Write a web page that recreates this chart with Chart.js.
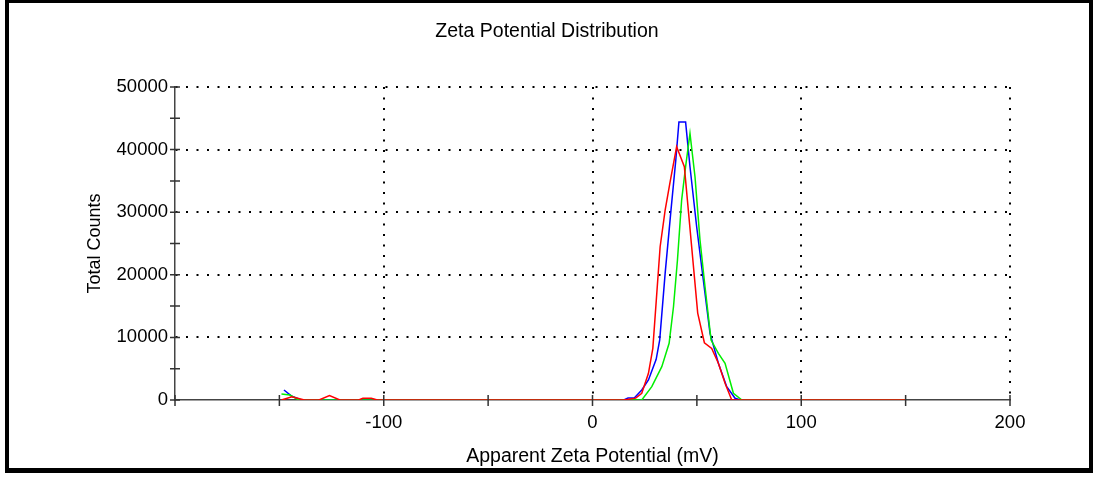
<!DOCTYPE html>
<html>
<head>
<meta charset="utf-8">
<title>Zeta Potential Distribution</title>
<script src="https://cdn.jsdelivr.net/npm/chart.js@4/dist/chart.umd.min.js"></script>
<style>
  html, body { margin: 0; padding: 0; background: #fff; }
  #wrap { width: 1094px; height: 477px; }
</style>
</head>
<body>
<div id="wrap"><canvas id="zetaChart" width="1094" height="477"></canvas></div>
<script>
// values (x in mV, y in counts)
const redX = [-149, -144, -138, -131, -126, -121, -112, -110, -106, -103, 15, 20.7, 23.6, 26.8, 28.9, 32.4, 34.8, 37.2, 40.3, 44, 50.4, 53.6, 57.1, 60.3, 63.5, 66.7, 150];
const redY = [0, 500, 0, 0, 700, 0, 0, 270, 270, 0, 0, 300, 1070, 4260, 8250, 24480, 30340, 34870, 40450, 37260, 13890, 9150, 8250, 5860, 2660, 0, 0];

const greenX = [-149, -145, -140.7, 23.6, 28.4, 33.2, 36.7, 38.8, 40.7, 42.7, 44.6, 46.7, 49.1, 51.5, 53.9, 56.8, 60.3, 63.5, 67.5, 71.6, 150];
const greenY = [960, 800, 0, 0, 2130, 5320, 9050, 14900, 22360, 31940, 37260, 42590, 35660, 25550, 18090, 9580, 7450, 5860, 1070, 0, 0];

const blueX = [-147.8, -144, -140, -136, 15, 17, 20, 23.6, 26.8, 30.5, 32.2, 34.8, 37.6, 39.9, 41.4, 44.6, 46.7, 49.9, 53.1, 56.3, 60.3, 64.3, 68.3, 71, 150];
const blueY = [1600, 600, 100, 0, 0, 300, 300, 1600, 3200, 6500, 9600, 20230, 30340, 38330, 44400, 44400, 37260, 27680, 19160, 10650, 5860, 2130, 270, 0, 0];

const xLabels = [-100, 0, 100, 200];
const yLabels = [0, 10000, 20000, 30000, 40000, 50000];

function pairs(xs, ys) {
  return xs.map((x, i) => ({ x: x, y: ys[i] }));
}

const fontFamily = "'Liberation Sans', Arial, sans-serif";

// black frame round the whole picture
const framePlugin = {
  id: 'frame',
  afterDraw(chart) {
    const ctx = chart.ctx;
    ctx.save();
    ctx.fillStyle = '#000';
    ctx.fillRect(5, 0, 4, 473);
    ctx.fillRect(5, 0, 1088, 3);
    ctx.fillRect(1089, 0, 4, 473);
    ctx.fillRect(5, 468, 1088, 5);
    ctx.restore();
  }
};

// tick marks that cross the axis lines
const crossTicks = {
  id: 'crossTicks',
  afterDatasetsDraw(chart) {
    const ctx = chart.ctx;
    const xs = chart.scales.x;
    const ys = chart.scales.y;
    const area = chart.chartArea;
    ctx.save();
    ctx.strokeStyle = '#333';
    ctx.lineWidth = 1.5;
    ctx.beginPath();
    xs.ticks.forEach(t => {
      const px = xs.getPixelForValue(t.value);
      ctx.moveTo(px, area.bottom - 5);
      ctx.lineTo(px, area.bottom + 6);
    });
    ys.ticks.forEach(t => {
      const py = ys.getPixelForValue(t.value);
      ctx.moveTo(area.left - 5, py);
      ctx.lineTo(area.left + 5, py);
    });
    ctx.stroke();
    ctx.restore();
  }
};

new Chart(document.getElementById('zetaChart'), {
  type: 'line',
  data: {
    datasets: [
      { label: 'Record 1', data: pairs(redX, redY), borderColor: '#ff0000', borderWidth: 1.5, pointRadius: 0, tension: 0 },
      { label: 'Record 2', data: pairs(greenX, greenY), borderColor: '#00ee00', borderWidth: 1.5, pointRadius: 0, tension: 0 },
      { label: 'Record 3', data: pairs(blueX, blueY), borderColor: '#0000ff', borderWidth: 1.5, pointRadius: 0, tension: 0 }
    ]
  },
  options: {
    responsive: false,
    animation: false,
    layout: { padding: { left: 84, right: 84, top: 0, bottom: 0 } },
    plugins: {
      legend: { display: false },
      tooltip: { enabled: false },
      title: {
        display: true,
        text: 'Zeta Potential Distribution',
        color: '#000',
        font: { family: fontFamily, size: 19.5, weight: 'normal' },
        padding: { top: 20, bottom: 43.6 }
      }
    },
    scales: {
      x: {
        type: 'linear',
        min: -200,
        max: 200,
        afterFit(s) { s.height = 77; },
        ticks: {
          stepSize: 50,
          autoSkip: false,
          maxRotation: 0,
          padding: 12,
          color: '#000',
          font: { family: fontFamily, size: 18.5 },
          callback: v => (xLabels.includes(v) ? String(v) : '')
        },
        grid: {
          drawTicks: false,
          lineWidth: 2,
          color: c => (xLabels.includes(c.tick.value) ? '#000' : 'rgba(0,0,0,0)')
        },
        border: { display: true, color: '#444', width: 1.5, dash: [2, 8.5] },
        title: {
          display: true,
          text: 'Apparent Zeta Potential (mV)',
          color: '#000',
          font: { family: fontFamily, size: 19.5 },
          padding: { top: 0, bottom: 8.3 }
        }
      },
      y: {
        min: 0,
        max: 50000,
        afterFit(s) { s.width = 91; },
        ticks: {
          stepSize: 5000,
          autoSkip: false,
          padding: 7,
          color: '#000',
          font: { family: fontFamily, size: 18.5 },
          callback: v => (yLabels.includes(v) ? String(v) : '')
        },
        grid: {
          drawTicks: false,
          lineWidth: 2,
          color: c => (yLabels.includes(c.tick.value) && c.tick.value !== 0 ? '#000' : 'rgba(0,0,0,0)')
        },
        border: { display: true, color: '#444', width: 1.5, dash: [2, 8.5] },
        title: {
          display: true,
          text: 'Total Counts',
          color: '#000',
          font: { family: fontFamily, size: 18 },
          padding: { top: 0, bottom: 0 }
        }
      }
    }
  },
  plugins: [framePlugin, crossTicks]
});
</script>
</body>
</html>
